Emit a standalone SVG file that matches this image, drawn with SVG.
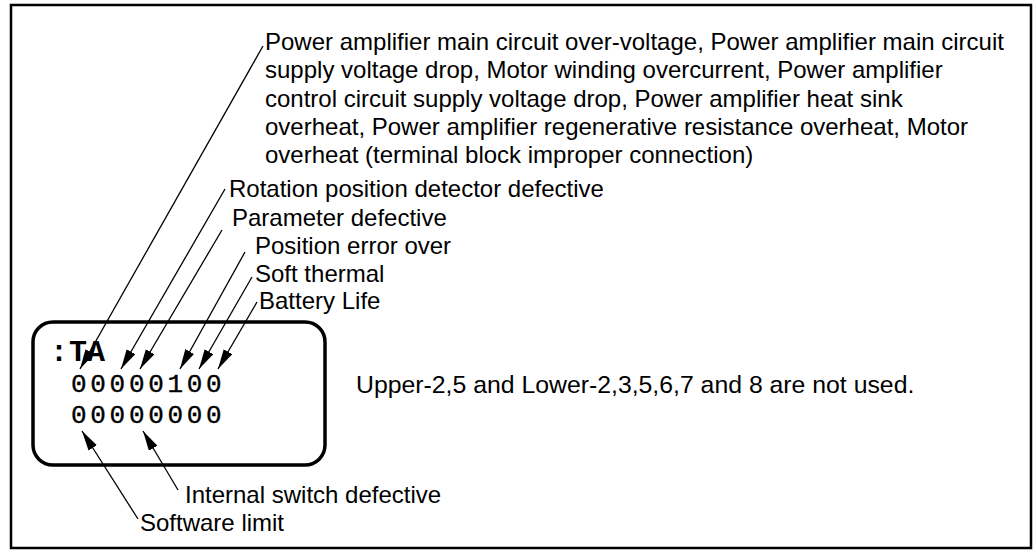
<svg xmlns="http://www.w3.org/2000/svg" width="1036" height="551" viewBox="0 0 1036 551">
<style>
.lbl{font-family:"Liberation Sans",Arial,sans-serif;font-size:24px;fill:#000}
.mono{font-family:"Liberation Mono","Courier New",monospace;fill:#000}
.dig{font-size:26px;letter-spacing:3.7px;stroke:#000;stroke-width:0.4}
.ld{stroke:#000;stroke-width:1.3;fill:none;marker-end:url(#ah)}
</style>
<defs>
<marker id="ah" markerUnits="userSpaceOnUse" markerWidth="21" markerHeight="11" refX="20" refY="5" orient="auto">
<path d="M0,0 L20,5 L0,10 z" fill="#000"/>
</marker>
</defs>
<rect x="11" y="5" width="1020" height="543" fill="#fff" stroke="#000" stroke-width="2.5"/>
<g id="display">
<rect x="33" y="322" width="292" height="143" rx="20" ry="20" fill="none" stroke="#000" stroke-width="3.5"/>
<text class="mono" font-size="30" font-weight="bold" x="50 69 87" y="361">:TA</text>
<text class="mono dig" x="71" y="392">00000100</text>
<text class="mono dig" x="71" y="423">00000000</text>
</g>
<g id="label-power">
<text class="lbl" x="265" y="50">Power amplifier main circuit over-voltage, Power amplifier main circuit</text>
<text class="lbl" x="265" y="78">supply voltage drop, Motor winding overcurrent, Power amplifier</text>
<text class="lbl" x="265" y="107">control circuit supply voltage drop, Power amplifier heat sink</text>
<text class="lbl" x="265" y="135">overheat, Power amplifier regenerative resistance overheat, Motor</text>
<text class="lbl" x="265" y="163">overheat (terminal block improper connection)</text>
</g>
<g id="label-rotation"><text class="lbl" x="229" y="197">Rotation position detector defective</text></g>
<g id="label-parameter"><text class="lbl" x="232" y="226">Parameter defective</text></g>
<g id="label-position"><text class="lbl" x="255" y="254">Position error over</text></g>
<g id="label-soft"><text class="lbl" x="255" y="282">Soft thermal</text></g>
<g id="label-battery"><text class="lbl" x="259" y="309">Battery Life</text></g>
<g id="label-note"><text class="lbl" x="356" y="393" style="font-size:24.8px">Upper-2,5 and Lower-2,3,5,6,7 and 8 are not used.</text></g>
<g id="label-internal"><text class="lbl" x="185" y="503">Internal switch defective</text></g>
<g id="label-software"><text class="lbl" x="140" y="531">Software limit</text></g>
<g id="connectors">
<line class="ld" x1="263" y1="46" x2="80" y2="369"/>
<line class="ld" x1="225" y1="189" x2="121" y2="369"/>
<line class="ld" x1="222" y1="230" x2="140" y2="369"/>
<line class="ld" x1="245" y1="252" x2="180" y2="369"/>
<line class="ld" x1="252" y1="277" x2="199" y2="369"/>
<line class="ld" x1="257" y1="302" x2="218" y2="369"/>
<line class="ld" x1="138" y1="519" x2="82" y2="431"/>
<line class="ld" x1="178" y1="490" x2="143" y2="431"/>
</g>
</svg>
